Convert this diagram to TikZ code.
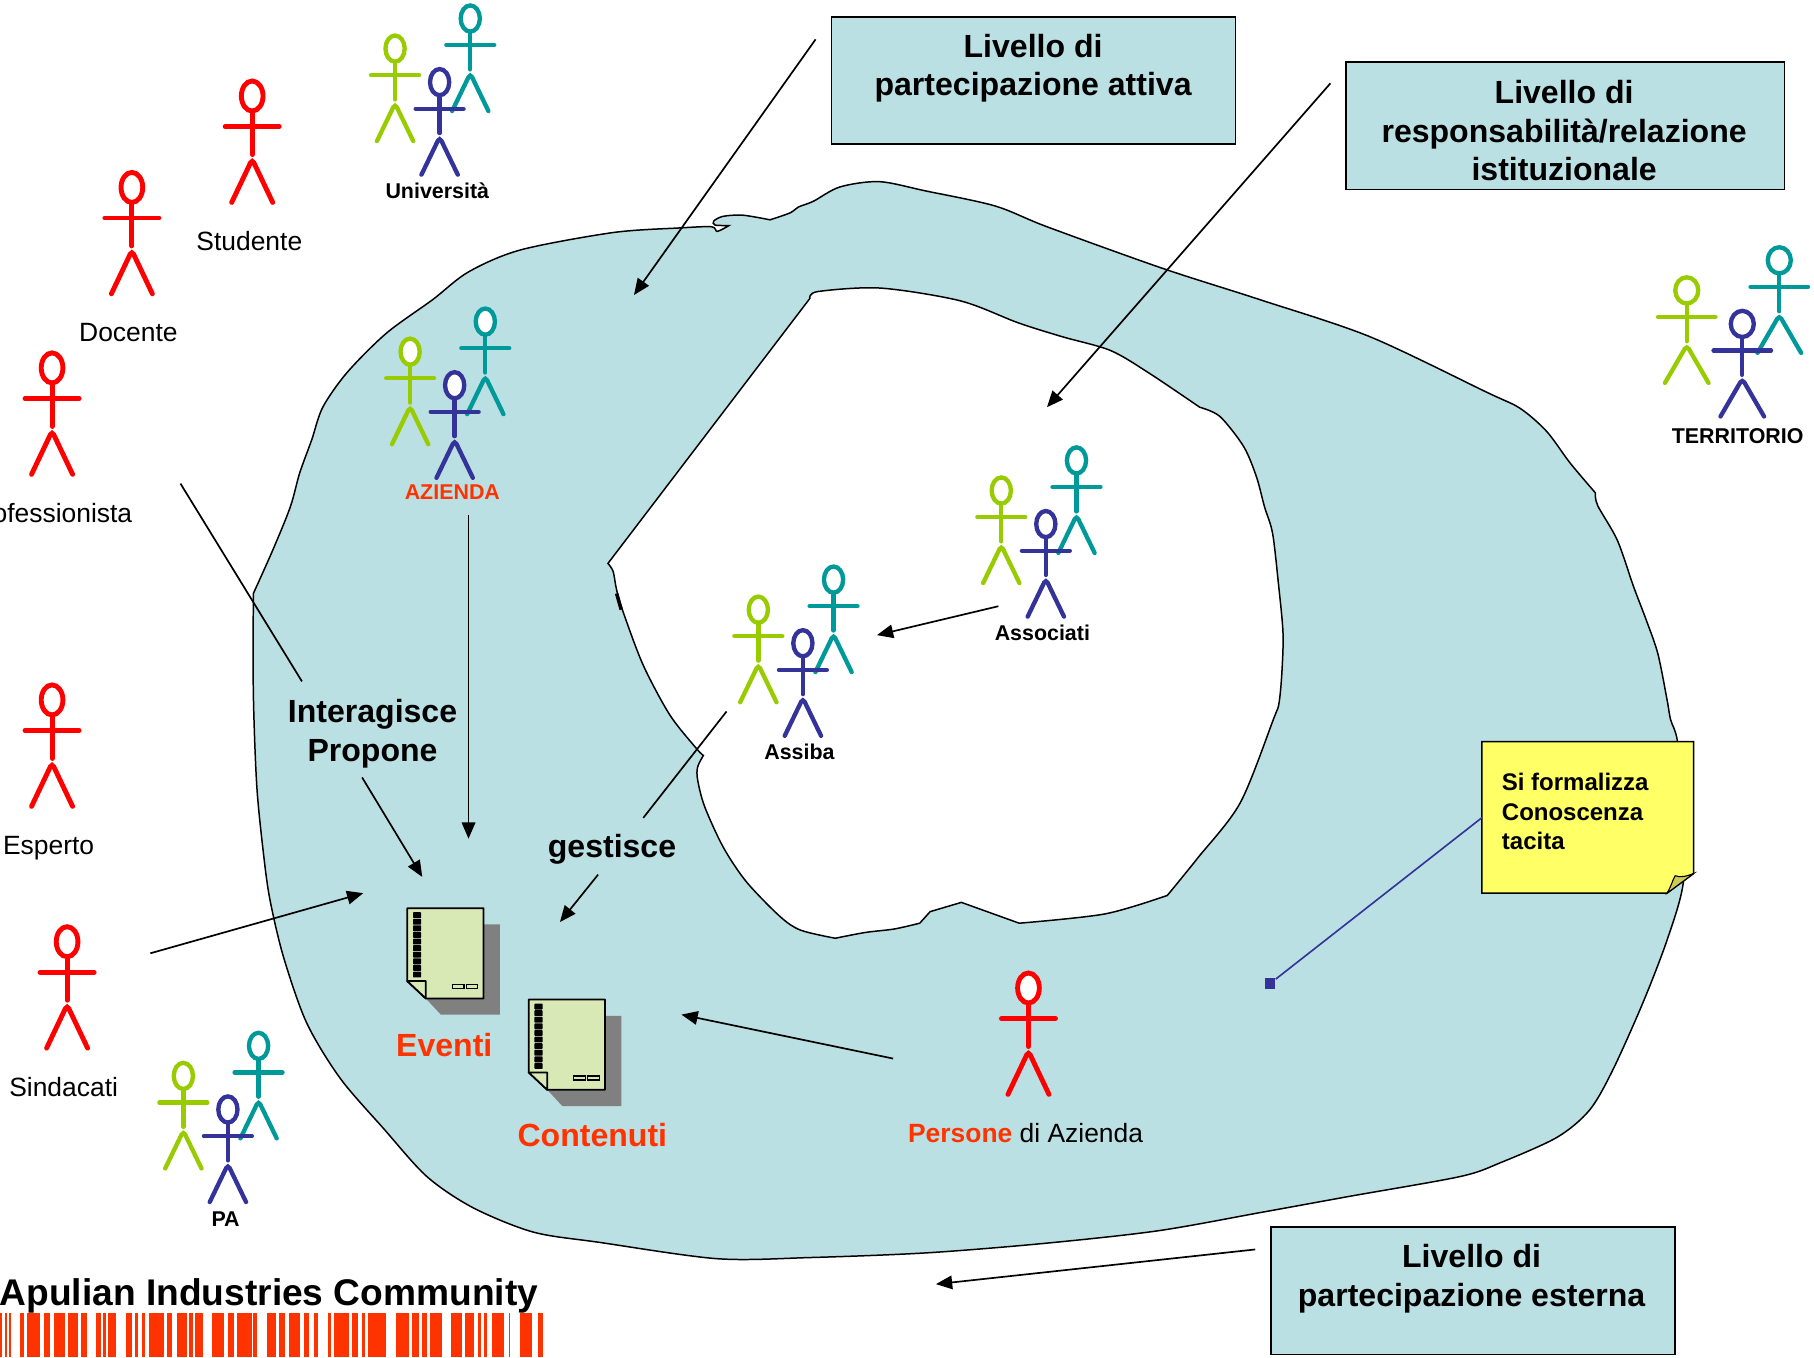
\documentclass[tikz,border=0pt]{standalone}
\usepackage{fontspec}
\setmainfont{Liberation Sans}
\usetikzlibrary{arrows.meta}
\definecolor{blob}{HTML}{BBE0E3}
\definecolor{orangered}{HTML}{FF3300}
\definecolor{fgreen}{HTML}{99CC00}
\definecolor{fteal}{HTML}{009999}
\definecolor{fblue}{HTML}{333399}
\definecolor{docpage}{HTML}{D9E9B5}
\definecolor{notey}{HTML}{FFFF66}
\definecolor{notef}{HTML}{CCCC52}
\tikzset{
  x=0.03cm,y=-0.03cm,
  outline/.style={draw=black,line width=1.1pt,line join=miter},
  conn/.style={draw=black,line width=1.25pt},
  arrowconn/.style={conn,-{Triangle[length=12pt,width=10pt]}},
  levelbox/.style={draw=black,line width=1.1pt,fill=blob,anchor=north west,inner sep=0pt},
  boldtext/.style={font=\fontsize{23.65}{28.4}\selectfont\bfseries,align=center,inner sep=0pt},
  redlabel/.style={font=\fontsize{19.5}{23}\selectfont,inner sep=0pt},
  grouplabel/.style={font=\fontsize{15.8}{20}\selectfont\bfseries,inner sep=0pt},
  orangetext/.style={font=\fontsize{23.65}{28}\selectfont\bfseries,text=orangered,inner sep=0pt},
  sm/.style={smooth,tension=0.5},
}
% stick figure: x y colour xscale yscale linewidth
\newcommand{\stick}[6]{%
  \begin{scope}[shift={({#1},{#2})},xscale=#4,yscale=#5]
    \draw[draw=#3,line width=#6,line cap=round]
      (0,11) -- (0,44)
      (-20.7,23) -- (20.7,23);
    \draw[draw=#3,line width=#6,fill=white] (0,0) ellipse [x radius=8.3,y radius=11.3];
    \draw[draw=#3,line width=#6,line cap=round,rounded corners=3pt]
      (-15.7,80) -- (0,47.5) -- (15.7,80);
  \end{scope}}
\newcommand{\redman}[2]{\stick{#1}{#2}{red}{1.13}{1.15}{3.6pt}}
% group: x y of the blue head
\newcommand{\mgroup}[2]{%
  \stick{#1-38.5}{#2-29}{fgreen}{1}{1}{3.2pt}%
  \stick{#1+26.5}{#2-55}{fteal}{1}{1}{3.2pt}%
  \stick{#1}{#2}{fblue}{1}{1}{3.2pt}}
% document: top-left corner
\newcommand{\docicon}[2]{%
  \begin{scope}[shift={(#1,#2)}]
    \fill[black!50] (66,14) -- (80,14) -- (80,92) -- (29,92) -- (16,78) -- (66,78) -- cycle;
    \draw[fill=docpage,line width=1.3pt,line join=round] (0,0) -- (66,0) -- (66,78) -- (16,78) -- (0,63) -- cycle;
    \draw[fill=docpage,line width=1.3pt,line join=round] (0,63) -- (16,63) -- (16,78) -- cycle;
    \foreach \k in {0,...,9} {\fill[black,rounded corners=0.5pt] (5,3.5+\k*5.7) rectangle (12,8.6+\k*5.7);}
    \draw[line width=0.9pt] (39,66) rectangle (49,69.5) (51,66) rectangle (61,69.5);
  \end{scope}}
\begin{document}
\begin{tikzpicture}
\useasboundingbox (0,0) rectangle (1568,1173);
\clip (0,0) rectangle (1568,1173);

% outer region
\draw[outline,fill=blob]
 plot[sm] coordinates {(219,513) (236,475) (251,438) (259,409) (269.5,380) (279,352) (300,322) (334,288) (374,259) (405,235) (450,216) (530,201) (588,197) (615,196) (620,200) (630,195)}
 -- plot[sm] coordinates {(630,195) (618,194.5) (617,191) (625,187) (642,186) (665.6,190)}
 -- plot[sm] coordinates {(665.6,190) (683,184) (690,179) (703,174) (726,161.6) (760,157) (800,165) (860,178) (905,196) (1005,232) (1089,259) (1184,291) (1285,339) (1314,353) (1337,373) (1357,400) (1379,426)}
 -- plot[sm] coordinates {(1379,426) (1381,437) (1398,467) (1412,507) (1423,536) (1433,565) (1441,605) (1444,622) (1450,641) (1456,700) (1455,763) (1441,812.5) (1420,867) (1394,925) (1374,959.5) (1346,983) (1297,1005) (1262,1017) (1167,1034) (1090,1048) (1000,1064) (900,1075) (800,1083) (700,1087) (620,1088) (519,1074) (461,1065) (409,1044) (369,1017) (332,976) (294,932) (265,884) (245,827) (233.4,778) (228,740) (222,680) (219,600) (219,513)}
 -- cycle;
% inner region
\draw[outline,fill=white]
 plot[sm] coordinates {(700,258) (707,252) (761,249) (830,260) (880,279) (918,291) (960,303) (994,323) (1037,352)}
 -- plot[sm] coordinates {(1037,352) (1054.5,360) (1075,386) (1086,412) (1093,438) (1100,461) (1105,504) (1109,547) (1108,582) (1105.5,608) (1101,621) (1072,694) (1035,742) (1009,774)}
 -- plot[sm] coordinates {(1009,774) (955,790) (881,798)}
 -- (831,780) -- (804,788) -- (795,798)
 -- plot[sm] coordinates {(795,798) (773,803) (748,806) (722,811)}
 -- plot[sm] coordinates {(722,811) (692,804) (674,792) (645,762) (625,732) (609,697) (603,674) (603,663) (608,653)}
 -- plot[sm] coordinates {(608,653) (602,647) (579,618) (556,575) (539,530) (533,510) (530,494) (525.5,487)}
 -- cycle;
\draw[line width=2.6pt] (533,513) -- (537,527);

% level boxes
\node[levelbox,minimum width=349.5*0.03cm,minimum height=110*0.03cm] (boxA) at (718,14) {};
\node[boldtext] (boxAt) at (893,59) {Livello di\\partecipazione attiva};
\node[levelbox,minimum width=379*0.03cm,minimum height=110*0.03cm] (boxB) at (1163,53) {};
\node[boldtext] (boxBt) at (1352,113) {Livello di\\responsabilità/relazione\\istituzionale};
\node[levelbox,minimum width=349*0.03cm,minimum height=110*0.03cm] (boxC) at (1098,1060) {};
\node[boldtext] (boxCt) at (1272,1105.5) {Livello di\\partecipazione esterna};

% people
\redman{218}{83}
\redman{114}{162}
\redman{45}{318}
\redman{45}{605}
\redman{58}{814}
\redman{889}{854}
\node[redlabel] (lStud) at (215.5,208) {Studente};
\node[redlabel] (lDoc) at (111,287.5) {Docente};
\node[redlabel,anchor=east] (lProf) at (114.5,443.5) {ofessionista};
\node[redlabel] (lEsp) at (42,733) {Esperto};
\node[redlabel] (lSind) at (55,940) {Sindacati};
\node[redlabel] (lPers) at (886.5,979) {\textbf{\textcolor{orangered}{Persone}} di Azienda};

\mgroup{380}{71}
\node[grouplabel] (lUni) at (378,165) {Università};
\mgroup{393}{333}
\node[grouplabel,text=orangered] (lAz) at (391,425.5) {AZIENDA};
\mgroup{904}{453}
\node[grouplabel] (lAss) at (901,547) {Associati};
\mgroup{694}{556}
\node[grouplabel] (lAsb) at (691,650) {Assiba};
\mgroup{197}{959}
\node[grouplabel] (lPA) at (195,1054) {PA};
\stick{1458}{251}{fgreen}{1.2}{1}{3.2pt}
\stick{1538}{225}{fteal}{1.2}{1}{3.2pt}
\stick{1506}{280}{fblue}{1.2}{1}{3.2pt}
\node[grouplabel] (lTer) at (1502,377) {TERRITORIO};

% documents
\docicon{352}{785}
\docicon{457}{864}
\node[orangetext] (lEv) at (384,903) {Eventi};
\node[orangetext] (lCo) at (512,981.5) {Contenuti};

% floating verbs
\node[boldtext] (lInt) at (322,634) {Interagisce\\Propone};
\node[boldtext] (lGes) at (529,734.5) {gestisce};

% sticky note
\node[minimum width=183*0.03cm,minimum height=131*0.03cm,inner sep=0pt,anchor=north west] (note) at (1281,641) {};
\draw[outline,fill=notey] (1281,641) -- (1464,641) -- (1464,755) -- (1441,772) -- (1281,772) -- cycle;
\draw[draw=black,line width=0.8pt,fill=notef] (1441,772) .. controls (1445,765) and (1446,760) .. (1448,757) .. controls (1453,759) and (1459,757) .. (1464,755) -- cycle;
\node[font=\fontsize{17.7}{21.8}\selectfont\bfseries,align=left,anchor=west,inner sep=0pt] (noteT) at (1298,701.5) {Si formalizza\\Conoscenza\\tacita};
\node[fill=fblue,minimum size=9*0.03cm,inner sep=0pt] (tip) at (1098,850) {};
\draw[draw=fblue,line width=1.2pt] (note.west) -- (tip);

% connectors
\coordinate (a1s) at (705,34); \coordinate (a1e) at (548,255);
\coordinate (a2s) at (1150,72); \coordinate (a2e) at (905,352);
\coordinate (a3s) at (156,418); \coordinate (a3e) at (261,589);
\coordinate (a4s) at (313,672); \coordinate (a4e) at (365,758);
\coordinate (a5s) at (405,445); \coordinate (a5e) at (405,725);
\coordinate (a6s) at (130,824); \coordinate (a6e) at (314,772);
\coordinate (a7s) at (863,524); \coordinate (a7e) at (758,549);
\coordinate (a8s) at (628,615); \coordinate (a8e) at (556,707);
\coordinate (a9s) at (517,756); \coordinate (a9e) at (484,797);
\coordinate (a10s) at (772,915); \coordinate (a10e) at (589,877);
\coordinate (a11s) at (1085,1080); \coordinate (a11e) at (809,1110);
\draw[arrowconn] (a1s) -- (a1e);
\draw[arrowconn] (a2s) -- (a2e);
\draw[conn] (a3s) -- (a3e);
\draw[arrowconn] (a4s) -- (a4e);
\draw[arrowconn] (a5s) -- (a5e);
\draw[arrowconn] (a6s) -- (a6e);
\draw[arrowconn] (a7s) -- (a7e);
\draw[conn] (a8s) -- (a8e);
\draw[arrowconn] (a9s) -- (a9e);
\draw[arrowconn] (a10s) -- (a10e);
\draw[arrowconn] (a11s) -- (a11e);

% bottom title and barcode
\begin{scope}[shift={(0,1135)}]
\foreach \a/\b in {0/6,12/18,24/30,53/64,70/105,115/130,141/170,178/205,212/228,252/264,270/278,282/302,330/345,352/360,372/380,390/428,436/450,462/490,495/505,510/530,555/585,597/612,620/658,662/672,697/722,730/745,755/785,795/808,820/832,858/865,872/912,920/937,945/955,962/1010,1035/1068,1078/1095,1102/1115,1125/1155,1178/1208,1215/1240,1250/1258,1265/1272,1285/1318,1330/1332,1358/1390,1405/1418}
  {\fill[orangered] ({\a*0.3307},0) rectangle ({\b*0.3307},38);}
\end{scope}
\node[font=\fontsize{27.4}{30}\selectfont\bfseries,anchor=west,inner sep=0pt] (title) at (-0.5,1120) {Apulian Industries Community};
\end{tikzpicture}
\end{document}
